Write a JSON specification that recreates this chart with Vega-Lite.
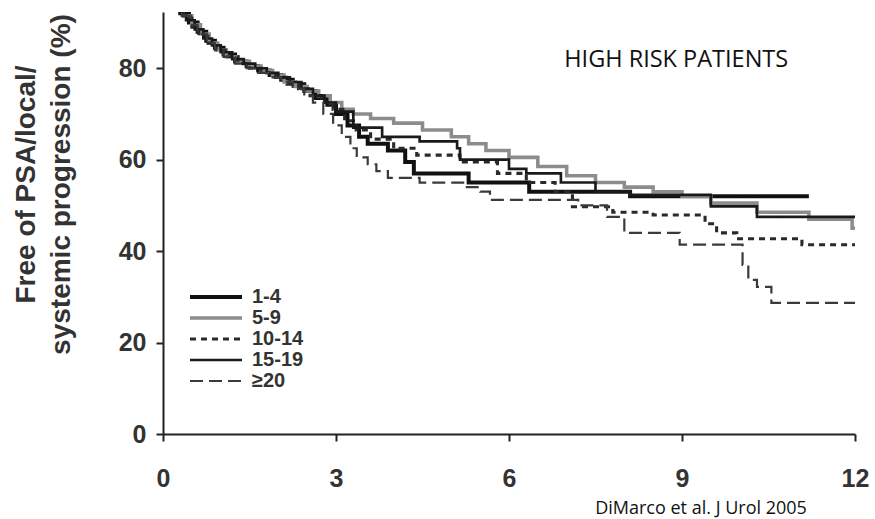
{
  "$schema": "https://vega.github.io/schema/vega-lite/v6.json",
  "width": 692,
  "height": 422,
  "autosize": {"type": "none"},
  "padding": {"left": 163, "top": 12, "right": 20, "bottom": 85},
  "background": "white",
  "config": {
    "view": {"stroke": null},
    "font": "Liberation Sans",
    "legend": {"title": null, "orient": "none", "legendX": 25, "legendY": 285, "symbolType": "stroke", "symbolSize": 2704, "labelFont": "Liberation Sans", "labelFontWeight": "bold", "labelFontSize": 20, "labelColor": "#333", "rowPadding": 1, "labelOffset": 8}
  },
  "datasets": {
    "km": [
      {"g":"1-4","t":0,"s":100},{"g":"1-4","t":0.1,"s":97},{"g":"1-4","t":0.2,"s":94.5},{"g":"1-4","t":0.3,"s":92},{"g":"1-4","t":0.45,"s":90},{"g":"1-4","t":0.6,"s":88},{"g":"1-4","t":0.75,"s":86},{"g":"1-4","t":0.9,"s":84.5},{"g":"1-4","t":1.05,"s":83},{"g":"1-4","t":1.25,"s":81.5},{"g":"1-4","t":1.45,"s":80.5},{"g":"1-4","t":1.65,"s":79.5},{"g":"1-4","t":1.85,"s":78.5},{"g":"1-4","t":2.05,"s":77.5},{"g":"1-4","t":2.25,"s":76.5},{"g":"1-4","t":2.45,"s":75},{"g":"1-4","t":2.65,"s":73.5},{"g":"1-4","t":2.85,"s":72},{"g":"1-4","t":3.0,"s":70},{"g":"1-4","t":3.2,"s":67.5},{"g":"1-4","t":3.4,"s":65},{"g":"1-4","t":3.55,"s":63.5},{"g":"1-4","t":3.9,"s":62},{"g":"1-4","t":4.2,"s":59.5},{"g":"1-4","t":4.35,"s":57},{"g":"1-4","t":5.3,"s":55},{"g":"1-4","t":6.35,"s":53},{"g":"1-4","t":8.1,"s":52},{"g":"1-4","t":11.2,"s":52},
      {"g":"5-9","t":0,"s":100},{"g":"5-9","t":0.12,"s":96.5},{"g":"5-9","t":0.22,"s":94},{"g":"5-9","t":0.35,"s":91.5},{"g":"5-9","t":0.5,"s":89.5},{"g":"5-9","t":0.65,"s":87.5},{"g":"5-9","t":0.8,"s":85.5},{"g":"5-9","t":0.95,"s":84},{"g":"5-9","t":1.1,"s":82.5},{"g":"5-9","t":1.3,"s":81.5},{"g":"5-9","t":1.5,"s":80.5},{"g":"5-9","t":1.7,"s":79.5},{"g":"5-9","t":1.9,"s":78.5},{"g":"5-9","t":2.1,"s":77},{"g":"5-9","t":2.3,"s":76},{"g":"5-9","t":2.5,"s":75},{"g":"5-9","t":2.7,"s":74},{"g":"5-9","t":2.9,"s":72.5},{"g":"5-9","t":3.1,"s":71},{"g":"5-9","t":3.3,"s":70},{"g":"5-9","t":3.6,"s":69},{"g":"5-9","t":4.0,"s":68},{"g":"5-9","t":4.5,"s":66.5},{"g":"5-9","t":5.0,"s":65},{"g":"5-9","t":5.3,"s":63.5},{"g":"5-9","t":5.6,"s":62},{"g":"5-9","t":6.0,"s":60.5},{"g":"5-9","t":6.5,"s":58.5},{"g":"5-9","t":7.0,"s":56.5},{"g":"5-9","t":7.5,"s":55},{"g":"5-9","t":8.0,"s":54},{"g":"5-9","t":8.5,"s":53},{"g":"5-9","t":9.0,"s":52},{"g":"5-9","t":9.5,"s":50.5},{"g":"5-9","t":10.3,"s":48.5},{"g":"5-9","t":11.2,"s":47},{"g":"5-9","t":11.95,"s":45},{"g":"5-9","t":12,"s":45},
      {"g":"10-14","t":0,"s":100},{"g":"10-14","t":0.1,"s":96.5},{"g":"10-14","t":0.25,"s":93.5},{"g":"10-14","t":0.35,"s":91},{"g":"10-14","t":0.5,"s":89},{"g":"10-14","t":0.62,"s":87},{"g":"10-14","t":0.78,"s":85.5},{"g":"10-14","t":0.92,"s":84},{"g":"10-14","t":1.08,"s":82.5},{"g":"10-14","t":1.3,"s":81},{"g":"10-14","t":1.5,"s":80},{"g":"10-14","t":1.7,"s":79},{"g":"10-14","t":1.95,"s":78},{"g":"10-14","t":2.15,"s":76.5},{"g":"10-14","t":2.35,"s":75.5},{"g":"10-14","t":2.55,"s":74},{"g":"10-14","t":2.75,"s":72.5},{"g":"10-14","t":2.95,"s":71},{"g":"10-14","t":3.15,"s":68.5},{"g":"10-14","t":3.35,"s":66.5},{"g":"10-14","t":3.6,"s":64.5},{"g":"10-14","t":4.0,"s":62.5},{"g":"10-14","t":4.4,"s":61},{"g":"10-14","t":5.15,"s":59.5},{"g":"10-14","t":5.8,"s":57},{"g":"10-14","t":6.3,"s":55},{"g":"10-14","t":6.8,"s":53},{"g":"10-14","t":7.1,"s":49.7},{"g":"10-14","t":7.8,"s":48.5},{"g":"10-14","t":8.5,"s":47.9},{"g":"10-14","t":9.4,"s":46},{"g":"10-14","t":9.6,"s":44},{"g":"10-14","t":9.95,"s":42.7},{"g":"10-14","t":11.08,"s":41.4},{"g":"10-14","t":12,"s":41.4},
      {"g":"15-19","t":0,"s":100},{"g":"15-19","t":0.08,"s":97.5},{"g":"15-19","t":0.18,"s":95},{"g":"15-19","t":0.28,"s":92.5},{"g":"15-19","t":0.4,"s":90.5},{"g":"15-19","t":0.55,"s":88.5},{"g":"15-19","t":0.7,"s":86.5},{"g":"15-19","t":0.85,"s":85},{"g":"15-19","t":1.0,"s":83.5},{"g":"15-19","t":1.2,"s":82},{"g":"15-19","t":1.4,"s":81},{"g":"15-19","t":1.6,"s":80},{"g":"15-19","t":1.8,"s":79},{"g":"15-19","t":2.0,"s":78},{"g":"15-19","t":2.2,"s":77},{"g":"15-19","t":2.4,"s":75.5},{"g":"15-19","t":2.6,"s":74},{"g":"15-19","t":2.8,"s":72.5},{"g":"15-19","t":3.0,"s":70.5},{"g":"15-19","t":3.3,"s":67},{"g":"15-19","t":3.8,"s":65},{"g":"15-19","t":4.45,"s":64},{"g":"15-19","t":5.1,"s":62.5},{"g":"15-19","t":5.15,"s":60},{"g":"15-19","t":6.0,"s":58},{"g":"15-19","t":6.3,"s":57},{"g":"15-19","t":6.9,"s":55},{"g":"15-19","t":7.5,"s":53},{"g":"15-19","t":8.1,"s":52.3},{"g":"15-19","t":9.5,"s":49.8},{"g":"15-19","t":10.3,"s":47.5},{"g":"15-19","t":12,"s":47.5},
      {"g":"≥20","t":0,"s":100},{"g":"≥20","t":0.1,"s":97},{"g":"≥20","t":0.2,"s":94},{"g":"≥20","t":0.32,"s":91.5},{"g":"≥20","t":0.48,"s":89.5},{"g":"≥20","t":0.6,"s":87.5},{"g":"≥20","t":0.76,"s":85.5},{"g":"≥20","t":0.9,"s":84},{"g":"≥20","t":1.05,"s":82.5},{"g":"≥20","t":1.25,"s":81},{"g":"≥20","t":1.45,"s":80},{"g":"≥20","t":1.65,"s":79},{"g":"≥20","t":1.85,"s":78},{"g":"≥20","t":2.05,"s":77},{"g":"≥20","t":2.25,"s":75.5},{"g":"≥20","t":2.45,"s":74},{"g":"≥20","t":2.6,"s":72.5},{"g":"≥20","t":2.78,"s":70},{"g":"≥20","t":2.95,"s":67.5},{"g":"≥20","t":3.1,"s":65},{"g":"≥20","t":3.25,"s":62.5},{"g":"≥20","t":3.36,"s":60.5},{"g":"≥20","t":3.55,"s":59},{"g":"≥20","t":3.7,"s":57.5},{"g":"≥20","t":3.9,"s":56},{"g":"≥20","t":4.45,"s":55},{"g":"≥20","t":5.27,"s":54},{"g":"≥20","t":5.5,"s":53},{"g":"≥20","t":5.67,"s":51.2},{"g":"≥20","t":7.2,"s":50},{"g":"≥20","t":7.7,"s":47.5},{"g":"≥20","t":8.0,"s":44},{"g":"≥20","t":8.96,"s":41.4},{"g":"≥20","t":10.05,"s":37},{"g":"≥20","t":10.15,"s":33.7},{"g":"≥20","t":10.3,"s":32.2},{"g":"≥20","t":10.55,"s":28.7},{"g":"≥20","t":12,"s":28.7}
    ],
    "notes": [
      {"t": 8.9, "s": 81.8, "label": "HIGH RISK PATIENTS", "size": 23.5},
      {"t": 9.33, "s": -16.4, "label": "DiMarco et al. J Urol 2005", "size": 18}
    ]
  },
  "layer": [
    {
      "data": {"name": "km"},
      "mark": {"type": "line", "interpolate": "step-after", "clip": true},
      "encoding": {
        "x": {
          "field": "t", "type": "quantitative",
          "scale": {"domain": [0, 12], "nice": false},
          "axis": {
            "title": null, "values": [0, 3, 6, 9, 12], "format": "d", "grid": false,
            "labelFont": "Liberation Sans", "labelFontWeight": "bold", "labelFontSize": 25, "labelColor": "#333",
            "labelPadding": 25, "tickSize": 7, "tickWidth": 2, "tickColor": "#222",
            "domainColor": "#222", "domainWidth": 2, "labelFlush": false
          }
        },
        "y": {
          "field": "s", "type": "quantitative",
          "scale": {"domain": [0, 92.3], "nice": false, "zero": false},
          "axis": {
            "title": ["Free of PSA/local/", "systemic progression (%)"],
            "titleFont": "Liberation Sans", "titleFontWeight": "bold", "titleFontSize": 28, "titleColor": "#333",
            "titleLineHeight": 35, "titleAngle": 270, "titleAlign": "center", "titleBaseline": "top",
            "titleX": -151, "titleY": 172,
            "values": [0, 20, 40, 60, 80], "grid": false,
            "labelFont": "Liberation Sans", "labelFontWeight": "bold", "labelFontSize": 25, "labelColor": "#333",
            "labelPadding": 10, "tickSize": 7, "tickWidth": 2, "tickColor": "#222",
            "domainColor": "#222", "domainWidth": 2
          }
        },
        "color": {
          "field": "g", "type": "nominal",
          "scale": {"domain": ["1-4", "5-9", "10-14", "15-19", "≥20"], "range": ["#111111", "#8c8c8c", "#2a2a2a", "#1a1a1a", "#3a3a3a"]},
          "legend": {"encode": {"symbols": {"update": {"y": {"value": 0}}}, "labels": {"update": {"y": {"value": 0}}}}}
        },
        "strokeDash": {
          "field": "g", "type": "nominal",
          "scale": {"domain": ["1-4", "5-9", "10-14", "15-19", "≥20"], "range": [[1, 0], [1, 0], [6, 5], [1, 0], [13, 6]]},
          "legend": {"encode": {"symbols": {"update": {"y": {"value": 0}}}, "labels": {"update": {"y": {"value": 0}}}}}
        },
        "strokeWidth": {
          "field": "g", "type": "nominal",
          "scale": {"domain": ["1-4", "5-9", "10-14", "15-19", "≥20"], "range": [4, 2.2, 2, 1.8, 2]},
          "legend": {"encode": {"symbols": {"update": {"y": {"value": 0}}}, "labels": {"update": {"y": {"value": 0}}}}}
        }
      }
    },
    {
      "data": {"name": "notes"},
      "mark": {"type": "text", "font": "Open Sans", "color": "#111", "align": "center", "baseline": "middle", "clip": false},
      "encoding": {
        "x": {"field": "t", "type": "quantitative"},
        "y": {"field": "s", "type": "quantitative"},
        "text": {"field": "label"},
        "size": {"field": "size", "type": "quantitative", "scale": null}
      }
    }
  ]
}
